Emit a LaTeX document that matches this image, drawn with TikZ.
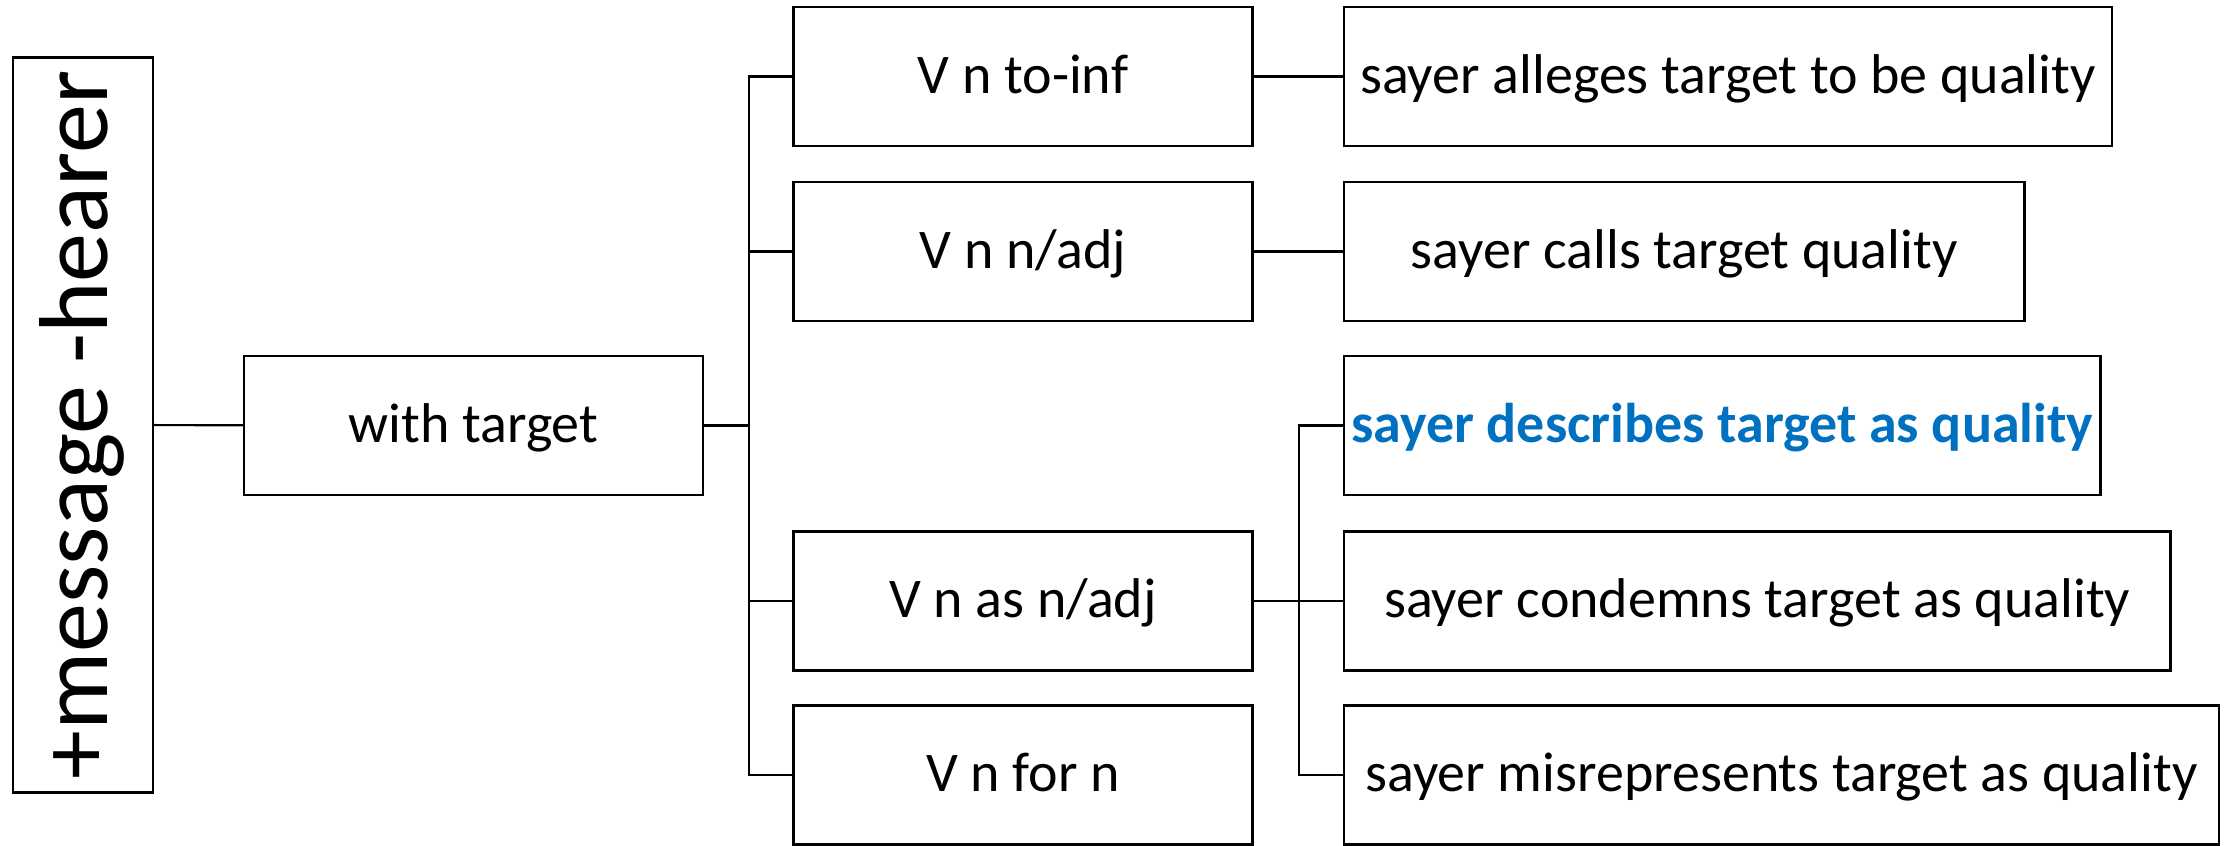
\documentclass[tikz,border=0pt]{standalone}
\usepackage{fontspec}
\setmainfont{Carlito}
\definecolor{hiblue}{RGB}{0,112,192}
\begin{document}
\begin{tikzpicture}[x=1pt,y=-1pt,
  box/.style={draw=black, line width=2.2pt, inner sep=0pt, minimum height=139pt,
    text height=33pt, text depth=0pt, align=center, font=\fontsize{56}{67}\selectfont},
  conn/.style={draw=black, line width=2.2pt}]
\useasboundingbox (0,0) rectangle (2233,846);

% root (rotated)
\node[box, rotate=90, minimum width=735pt, minimum height=140pt, text height=49pt,
      font=\fontsize{98}{110}\selectfont] (root) at (82.6,425) {+message -hearer};

% level 1
\node[box, minimum width=459pt] (wt) at (473.5,425.5) {with target};

% level 2
\node[box, minimum width=459pt] (c1) at (1023,76.5) {V n to-inf};
\node[box, minimum width=459pt] (c2) at (1023,251.5) {V n n/adj};
\node[box, minimum width=459pt] (c3) at (1023,601) {V n as n/adj};
\node[box, minimum width=459pt] (c4) at (1023,775) {V n for n};

% level 3
\node[box, minimum width=768pt] (r1) at (1728,76.5) {sayer alleges target to be quality};
\node[box, minimum width=680.5pt] (r2) at (1684.25,251.5) {sayer calls target quality};
\node[box, minimum width=756.5pt, text=hiblue, font=\fontsize{56}{67}\selectfont\bfseries] (r3) at (1722.25,425.5) {sayer describes target as quality};
\node[box, minimum width=826.5pt] (r4) at (1757.25,601) {sayer condemns target as quality};
\node[box, minimum width=875pt] (r5) at (1781.5,775) {sayer misrepresents target as quality};

% junction points
\coordinate (t) at (749,425.5);
\coordinate (b) at (1299,601);

% connectors
\draw[conn] (root) -- (wt);
\draw[conn] (wt.east) -- (t);
\draw[conn] (c1.west) -| (t) |- (c4.west);
\draw[conn] (t) |- (c2.west);
\draw[conn] (t) |- (c3.west);
\draw[conn] (c1) -- (r1);
\draw[conn] (c2) -- (r2);
\draw[conn] (c3.east) -- (b);
\draw[conn] (r3.west) -| (b) |- (r5.west);
\draw[conn] (b) -- (r4.west);
\end{tikzpicture}
\end{document}
